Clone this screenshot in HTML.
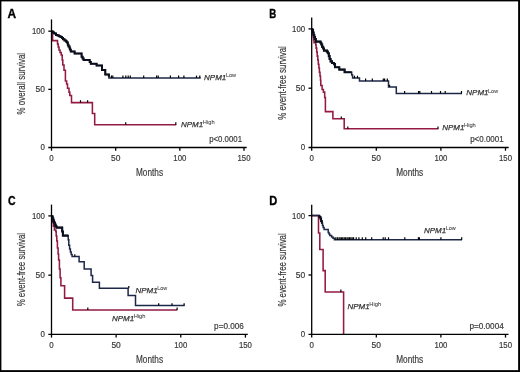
<!DOCTYPE html><html><head><meta charset="utf-8"><style>html,body{margin:0;padding:0;background:#fff;}svg{display:block;will-change:transform;}text{font-family:"Liberation Sans", sans-serif;}</style></head><body>
<svg width="520" height="372" viewBox="0 0 520 372">
<rect x="0" y="0" width="520" height="372" fill="#fff"/>
<path d="M51.5,31.2 H52.6 V40.6 H57.5 V44 H58.2 V47 H59 V50 H60 V52.5 H61.2 V55 H62.2 V60 H62.8 V65 H64 V70.2 H65.4 V81 H66.6 V84 H67.5 V88.2 H69 V92.1 H69.8 V95.5 H71.5 V102.6 H92.4 V113.4 H94.7 V124.7 H176.3" fill="none" stroke="#941a43" stroke-width="1.55" stroke-linejoin="miter" stroke-linecap="butt" />
<path d="M51.5,31.2 H52.2 V31.8 H53.5 V33 H54.4 V33.6 H56 V35 H57.5 V35.6 H59 V36.3 H60.5 V37 H62 V38 H63 V39.3 H64.5 V40.5 H66 V41.5 H67 V42.5 H67.8 V44.7 H68.5 V46.5 H69.6 V48.5 H70.2 V49.8 H70.8 V51.4 H74.6 V53.4 H81.6 V56.8 H82.6 V58.4 H83.6 V60.1 H89.7 V62.1 H90.8 V63.8 H96.6 V65.4 H102 V70.1 H105.3 V74.5 H108.9 V78 H200.7" fill="none" stroke="#1d2848" stroke-width="1.5" stroke-linejoin="miter" stroke-linecap="butt" />
<path d="M51.8,31.4 H52.2 V31.8 H53.5 V33 H54.4 V33.6 H56 V35 H57.5 V35.6 H59 V36.3 H60.5 V37 H62 V38 H63 V39.3 H64.5 V40.5 H66 V41.5 H67 V42.5 H67.8 V44.7 H68.5 V46.5 H69.6 V48.5 H70.2 V49.8 H70.8 V51.4 H74.6 V53.4 H81.6 V56.8 H82.6 V58.4 H83.6 V60.1 H89.7 V62.1 H90.8 V63.8 H96.6 V65.4 H102 V70.1 H105.3 V74.5 H108.9 V77" fill="none" stroke="#0b0f1c" stroke-width="2.0" stroke-linejoin="miter" stroke-linecap="butt" />
<line x1="80.5" y1="102.6" x2="80.5" y2="100.19999999999999" stroke="#000" stroke-width="1.2"/>
<line x1="87.6" y1="102.6" x2="87.6" y2="100.19999999999999" stroke="#000" stroke-width="1.2"/>
<line x1="125.7" y1="124.7" x2="125.7" y2="122.3" stroke="#000" stroke-width="1.2"/>
<line x1="175.8" y1="124.7" x2="175.8" y2="122.3" stroke="#000" stroke-width="1.2"/>
<line x1="111.4" y1="78" x2="111.4" y2="75.6" stroke="#000" stroke-width="1.2"/>
<line x1="112.8" y1="78" x2="112.8" y2="75.6" stroke="#000" stroke-width="1.2"/>
<line x1="122.9" y1="78" x2="122.9" y2="75.6" stroke="#000" stroke-width="1.2"/>
<line x1="125.8" y1="78" x2="125.8" y2="75.6" stroke="#000" stroke-width="1.2"/>
<line x1="128.2" y1="78" x2="128.2" y2="75.6" stroke="#000" stroke-width="1.2"/>
<line x1="130.3" y1="78" x2="130.3" y2="75.6" stroke="#000" stroke-width="1.2"/>
<line x1="143.7" y1="78" x2="143.7" y2="75.6" stroke="#000" stroke-width="1.2"/>
<line x1="156.6" y1="78" x2="156.6" y2="75.6" stroke="#000" stroke-width="1.2"/>
<line x1="158.2" y1="78" x2="158.2" y2="75.6" stroke="#000" stroke-width="1.2"/>
<line x1="170.4" y1="78" x2="170.4" y2="75.6" stroke="#000" stroke-width="1.2"/>
<line x1="178.6" y1="78" x2="178.6" y2="75.6" stroke="#000" stroke-width="1.2"/>
<line x1="183.9" y1="78" x2="183.9" y2="75.6" stroke="#000" stroke-width="1.2"/>
<line x1="196.5" y1="78" x2="196.5" y2="75.6" stroke="#000" stroke-width="1.2"/>
<line x1="199.8" y1="78" x2="199.8" y2="75.6" stroke="#000" stroke-width="1.2"/>
<text x="204.1" y="79.9" font-size="8.1" font-style="italic" fill="#333" stroke="#333" stroke-width="0.25" textLength="22.2" lengthAdjust="spacingAndGlyphs">NPM1</text>
<text x="225.89999999999998" y="77.10000000000001" font-size="5.4" fill="#3a3a3a" stroke="#3a3a3a" stroke-width="0.05" textLength="10.0" lengthAdjust="spacingAndGlyphs">Low</text>
<text x="181.0" y="127.1" font-size="8.1" font-style="italic" fill="#333" stroke="#333" stroke-width="0.25" textLength="22.2" lengthAdjust="spacingAndGlyphs">NPM1</text>
<text x="202.79999999999998" y="124.3" font-size="5.4" fill="#3a3a3a" stroke="#3a3a3a" stroke-width="0.05" textLength="11.8" lengthAdjust="spacingAndGlyphs">High</text>
<path d="M311.8,28.8 H312.4 V31 H312.8 V34 H313.2 V37 H313.6 V40 H314 V42.6 H315.8 V45 H316.1 V48.1 H316.7 V52 H317.2 V56.1 H317.8 V60 H318.3 V64.2 H318.9 V68 H319.4 V72.3 H320 V76 H320.5 V80.3 H320.8 V85.4 H322.1 V89.4 H323.4 V92.1 H324.7 V97.5 H325.4 V111.6 H332.9 V118.8 H344.2 V128.8 H438.4" fill="none" stroke="#941a43" stroke-width="1.55" stroke-linejoin="miter" stroke-linecap="butt" />
<path d="M311.8,28.8 H312.4 V30 H313 V32.5 H313.6 V35 H314.3 V37 H315 V39 H315.8 V41.6 H320.5 V42.8 H321.3 V44.5 H322.2 V46.9 H323.2 V48.5 H324 V50.6 H326.9 V51.6 H327.8 V53.3 H328.8 V56.1 H329.6 V59 H330.6 V61.4 H332 V63 H334 V64.1 H335 V67.2 H339.3 V69.6 H344.6 V72.3 H351.7 V75 H352.6 V78.1 H359.5 V81 H388.5 V87.1 H396.3 V93.4 H462" fill="none" stroke="#1d2848" stroke-width="1.5" stroke-linejoin="miter" stroke-linecap="butt" />
<path d="M312.2,29.5 H312.4 V30 H313 V32.5 H313.6 V35 H314.3 V37 H315 V39 H315.8 V41.6 H320.5 V42.8 H321.3 V44.5 H322.2 V46.9 H323.2 V48.5 H324 V50.6 H326.9 V51.6 H327.8 V53.3 H328.8 V56.1 H329.6 V59 H330.6 V61.4 H332 V63 H334 V64.1 H335 V67.2 H339.3 V69.6 H344.6 V72.3 H351.7" fill="none" stroke="#0b0f1c" stroke-width="2.1" stroke-linejoin="miter" stroke-linecap="butt" />
<line x1="341.3" y1="118.8" x2="341.3" y2="116.39999999999999" stroke="#000" stroke-width="1.2"/>
<line x1="347.8" y1="128.8" x2="347.8" y2="126.4" stroke="#000" stroke-width="1.2"/>
<line x1="438.0" y1="128.8" x2="438.0" y2="126.4" stroke="#000" stroke-width="1.2"/>
<line x1="354.5" y1="78.1" x2="354.5" y2="75.69999999999999" stroke="#000" stroke-width="1.2"/>
<line x1="357.5" y1="78.1" x2="357.5" y2="75.69999999999999" stroke="#000" stroke-width="1.2"/>
<line x1="365.6" y1="81" x2="365.6" y2="78.6" stroke="#000" stroke-width="1.2"/>
<line x1="372.3" y1="81" x2="372.3" y2="78.6" stroke="#000" stroke-width="1.2"/>
<line x1="383.3" y1="81" x2="383.3" y2="78.6" stroke="#000" stroke-width="1.2"/>
<line x1="384.6" y1="81" x2="384.6" y2="78.6" stroke="#000" stroke-width="1.2"/>
<line x1="387.3" y1="81" x2="387.3" y2="78.6" stroke="#000" stroke-width="1.2"/>
<line x1="389.6" y1="87.1" x2="389.6" y2="84.69999999999999" stroke="#000" stroke-width="1.2"/>
<line x1="404.6" y1="93.4" x2="404.6" y2="91.0" stroke="#000" stroke-width="1.2"/>
<line x1="418.6" y1="93.4" x2="418.6" y2="91.0" stroke="#000" stroke-width="1.2"/>
<line x1="419.8" y1="93.4" x2="419.8" y2="91.0" stroke="#000" stroke-width="1.2"/>
<line x1="431.5" y1="93.4" x2="431.5" y2="91.0" stroke="#000" stroke-width="1.2"/>
<line x1="440.5" y1="93.4" x2="440.5" y2="91.0" stroke="#000" stroke-width="1.2"/>
<line x1="445.2" y1="93.4" x2="445.2" y2="91.0" stroke="#000" stroke-width="1.2"/>
<line x1="461.5" y1="93.4" x2="461.5" y2="91.0" stroke="#000" stroke-width="1.2"/>
<text x="466.3" y="95.4" font-size="8.1" font-style="italic" fill="#333" stroke="#333" stroke-width="0.25" textLength="22.2" lengthAdjust="spacingAndGlyphs">NPM1</text>
<text x="488.1" y="92.60000000000001" font-size="5.4" fill="#3a3a3a" stroke="#3a3a3a" stroke-width="0.05" textLength="10.0" lengthAdjust="spacingAndGlyphs">Low</text>
<text x="442.2" y="130.2" font-size="8.1" font-style="italic" fill="#333" stroke="#333" stroke-width="0.25" textLength="22.2" lengthAdjust="spacingAndGlyphs">NPM1</text>
<text x="464.0" y="127.39999999999999" font-size="5.4" fill="#3a3a3a" stroke="#3a3a3a" stroke-width="0.05" textLength="11.8" lengthAdjust="spacingAndGlyphs">High</text>
<path d="M51.5,215.9 H52.4 V218 H52.8 V222.5 H53.4 V226.3 H54.4 V230 H55.8 V231.5 H56.2 V236 H56.8 V241 H57.4 V247.9 H58.1 V254 H58.6 V260 H59.4 V268.9 H60.1 V277.7 H60.9 V285.8 H64.6 V298.1 H72.7 V309.9 H177.3" fill="none" stroke="#941a43" stroke-width="1.55" stroke-linejoin="miter" stroke-linecap="butt" />
<path d="M51.5,215.9 H52 V216.5 H52.6 V218.5 H53.3 V220.5 H54 V222.5 H54.8 V224.6 H55.6 V226.2 H56.5 V227.6 H62.2 V231.5 H62.9 V235.6 H68.2 V239.8 H68.8 V245.2 H69.6 V249 H70.4 V252 H71.2 V254.5 H72.1 V256.6 H79.1 V261.8 H84.2 V269 H91.1 V275.5 H92.6 V282.2 H99.4 V288.3 H128.1 V295.5 H135.5 V305.6 H184.7" fill="none" stroke="#1d2848" stroke-width="1.5" stroke-linejoin="miter" stroke-linecap="butt" />
<path d="M52,216.5 H52.6 V218.5 H53.3 V220.5 H54 V222.5 H54.8 V224.6 H55.6 V226.2 H56.5 V227.6 H62.2 V231.5 H62.9 V235.6 H68.2" fill="none" stroke="#0b0f1c" stroke-width="2.1" stroke-linejoin="miter" stroke-linecap="butt" />
<line x1="74.8" y1="256.6" x2="74.8" y2="254.20000000000002" stroke="#000" stroke-width="1.2"/>
<line x1="87.8" y1="309.9" x2="87.8" y2="307.5" stroke="#000" stroke-width="1.2"/>
<line x1="177.1" y1="309.9" x2="177.1" y2="307.5" stroke="#000" stroke-width="1.2"/>
<line x1="128.8" y1="288.3" x2="128.8" y2="285.90000000000003" stroke="#000" stroke-width="1.2"/>
<line x1="158.7" y1="305.6" x2="158.7" y2="303.20000000000005" stroke="#000" stroke-width="1.2"/>
<line x1="172.0" y1="305.6" x2="172.0" y2="303.20000000000005" stroke="#000" stroke-width="1.2"/>
<line x1="184.1" y1="305.6" x2="184.1" y2="303.20000000000005" stroke="#000" stroke-width="1.2"/>
<text x="135.5" y="292.5" font-size="8.1" font-style="italic" fill="#333" stroke="#333" stroke-width="0.25" textLength="22.2" lengthAdjust="spacingAndGlyphs">NPM1</text>
<text x="157.29999999999998" y="289.7" font-size="5.4" fill="#3a3a3a" stroke="#3a3a3a" stroke-width="0.05" textLength="10.0" lengthAdjust="spacingAndGlyphs">Low</text>
<text x="111.9" y="321.2" font-size="8.1" font-style="italic" fill="#333" stroke="#333" stroke-width="0.25" textLength="22.2" lengthAdjust="spacingAndGlyphs">NPM1</text>
<text x="133.7" y="318.4" font-size="5.4" fill="#3a3a3a" stroke="#3a3a3a" stroke-width="0.05" textLength="11.8" lengthAdjust="spacingAndGlyphs">High</text>
<path d="M311.6,215.6 H318.5 V233 H319.8 V249.4 H323.1 V270.6 H325.2 V291.9 H343.6 V334.4" fill="none" stroke="#941a43" stroke-width="1.55" stroke-linejoin="miter" stroke-linecap="butt" />
<path d="M311.6,215.6 H319.4 V217 H320.4 V218.5 H321.1 V221 H321.8 V223.2 H322.5 V225.4 H323.2 V227.4 H324.1 V229.5 H328.2 V232.6 H329 V234 H329.8 V235.6 H331.6 V237 H333 V238.2 H334.4 V239.7 H462" fill="none" stroke="#1d2848" stroke-width="1.5" stroke-linejoin="miter" stroke-linecap="butt" />
<path d="M318.6,216 H319.4 V217 H320.4 V218.5 H321.1 V221 H321.8 V223.2" fill="none" stroke="#0b0f1c" stroke-width="2.0" stroke-linejoin="miter" stroke-linecap="butt" />
<line x1="340.9" y1="291.9" x2="340.9" y2="289.5" stroke="#000" stroke-width="1.2"/>
<line x1="335.8" y1="239.7" x2="335.8" y2="237.29999999999998" stroke="#000" stroke-width="1.2"/>
<line x1="337.4" y1="239.7" x2="337.4" y2="237.29999999999998" stroke="#000" stroke-width="1.2"/>
<line x1="339" y1="239.7" x2="339" y2="237.29999999999998" stroke="#000" stroke-width="1.2"/>
<line x1="340.1" y1="239.7" x2="340.1" y2="237.29999999999998" stroke="#000" stroke-width="1.2"/>
<line x1="341.5" y1="239.7" x2="341.5" y2="237.29999999999998" stroke="#000" stroke-width="1.2"/>
<line x1="342.8" y1="239.7" x2="342.8" y2="237.29999999999998" stroke="#000" stroke-width="1.2"/>
<line x1="344.2" y1="239.7" x2="344.2" y2="237.29999999999998" stroke="#000" stroke-width="1.2"/>
<line x1="345.5" y1="239.7" x2="345.5" y2="237.29999999999998" stroke="#000" stroke-width="1.2"/>
<line x1="347" y1="239.7" x2="347" y2="237.29999999999998" stroke="#000" stroke-width="1.2"/>
<line x1="348.2" y1="239.7" x2="348.2" y2="237.29999999999998" stroke="#000" stroke-width="1.2"/>
<line x1="349.6" y1="239.7" x2="349.6" y2="237.29999999999998" stroke="#000" stroke-width="1.2"/>
<line x1="350.9" y1="239.7" x2="350.9" y2="237.29999999999998" stroke="#000" stroke-width="1.2"/>
<line x1="352.2" y1="239.7" x2="352.2" y2="237.29999999999998" stroke="#000" stroke-width="1.2"/>
<line x1="353.6" y1="239.7" x2="353.6" y2="237.29999999999998" stroke="#000" stroke-width="1.2"/>
<line x1="356.2" y1="239.7" x2="356.2" y2="237.29999999999998" stroke="#000" stroke-width="1.2"/>
<line x1="358.9" y1="239.7" x2="358.9" y2="237.29999999999998" stroke="#000" stroke-width="1.2"/>
<line x1="362.3" y1="239.7" x2="362.3" y2="237.29999999999998" stroke="#000" stroke-width="1.2"/>
<line x1="365.7" y1="239.7" x2="365.7" y2="237.29999999999998" stroke="#000" stroke-width="1.2"/>
<line x1="371.7" y1="239.7" x2="371.7" y2="237.29999999999998" stroke="#000" stroke-width="1.2"/>
<line x1="383.2" y1="239.7" x2="383.2" y2="237.29999999999998" stroke="#000" stroke-width="1.2"/>
<line x1="385.2" y1="239.7" x2="385.2" y2="237.29999999999998" stroke="#000" stroke-width="1.2"/>
<line x1="388.5" y1="239.7" x2="388.5" y2="237.29999999999998" stroke="#000" stroke-width="1.2"/>
<line x1="404.8" y1="239.7" x2="404.8" y2="237.29999999999998" stroke="#000" stroke-width="1.2"/>
<line x1="418.4" y1="239.7" x2="418.4" y2="237.29999999999998" stroke="#000" stroke-width="1.2"/>
<line x1="419.4" y1="239.7" x2="419.4" y2="237.29999999999998" stroke="#000" stroke-width="1.2"/>
<line x1="440.9" y1="239.7" x2="440.9" y2="237.29999999999998" stroke="#000" stroke-width="1.2"/>
<line x1="461.7" y1="239.7" x2="461.7" y2="237.29999999999998" stroke="#000" stroke-width="1.2"/>
<text x="424.0" y="233.0" font-size="8.1" font-style="italic" fill="#333" stroke="#333" stroke-width="0.25" textLength="22.2" lengthAdjust="spacingAndGlyphs">NPM1</text>
<text x="445.8" y="230.2" font-size="5.4" fill="#3a3a3a" stroke="#3a3a3a" stroke-width="0.05" textLength="10.0" lengthAdjust="spacingAndGlyphs">Low</text>
<text x="347.5" y="309.0" font-size="8.1" font-style="italic" fill="#333" stroke="#333" stroke-width="0.25" textLength="22.2" lengthAdjust="spacingAndGlyphs">NPM1</text>
<text x="369.3" y="306.2" font-size="5.4" fill="#3a3a3a" stroke="#3a3a3a" stroke-width="0.05" textLength="11.8" lengthAdjust="spacingAndGlyphs">High</text>
<line x1="51.5" y1="19.4" x2="51.5" y2="150.7" stroke="#000" stroke-width="1.3"/>
<line x1="48.3" y1="147.5" x2="246.7" y2="147.5" stroke="#000" stroke-width="1.3"/>
<line x1="48.3" y1="31.2" x2="51.5" y2="31.2" stroke="#000" stroke-width="1.3"/>
<line x1="48.3" y1="89.35" x2="51.5" y2="89.35" stroke="#000" stroke-width="1.3"/>
<line x1="115.66666666666667" y1="147.5" x2="115.66666666666667" y2="150.7" stroke="#000" stroke-width="1.3"/>
<line x1="179.83333333333334" y1="147.5" x2="179.83333333333334" y2="150.7" stroke="#000" stroke-width="1.3"/>
<line x1="244.0" y1="147.5" x2="244.0" y2="150.7" stroke="#000" stroke-width="1.3"/>
<text x="44.9" y="34.2" text-anchor="end" textLength="13" lengthAdjust="spacingAndGlyphs" font-size="8.4" fill="#383838" stroke="#383838" stroke-width="0.18">100</text>
<text x="44.9" y="92.35" text-anchor="end" textLength="9.4" lengthAdjust="spacingAndGlyphs" font-size="8.4" fill="#383838" stroke="#383838" stroke-width="0.18">50</text>
<text x="44.9" y="150.2" text-anchor="end" textLength="4.4" lengthAdjust="spacingAndGlyphs" font-size="8.4" fill="#383838" stroke="#383838" stroke-width="0.18">0</text>
<text x="49.3" y="160.6" textLength="4.4" lengthAdjust="spacingAndGlyphs" font-size="8.4" fill="#383838" stroke="#383838" stroke-width="0.18">0</text>
<text x="110.96666666666667" y="160.6" textLength="9.4" lengthAdjust="spacingAndGlyphs" font-size="8.4" fill="#383838" stroke="#383838" stroke-width="0.18">50</text>
<text x="173.33333333333334" y="160.6" textLength="13" lengthAdjust="spacingAndGlyphs" font-size="8.4" fill="#383838" stroke="#383838" stroke-width="0.18">100</text>
<text x="237.5" y="160.6" textLength="13" lengthAdjust="spacingAndGlyphs" font-size="8.4" fill="#383838" stroke="#383838" stroke-width="0.18">150</text>
<text x="136.0" y="175.5" textLength="27" lengthAdjust="spacingAndGlyphs" font-size="10.4" fill="#383838" stroke="#383838" stroke-width="0.18">Months</text>
<text transform="translate(25.0,114.4) rotate(-90)" x="0" y="0" textLength="61.50000000000001" lengthAdjust="spacingAndGlyphs" font-size="10.6" fill="#383838" stroke="#383838" stroke-width="0.18">% overall survival</text>
<text x="7.6" y="17.7" font-size="12.5" font-weight="bold" fill="#000" textLength="8.6" lengthAdjust="spacingAndGlyphs" stroke="#000" stroke-width="0.35">A</text>
<text x="209.2" y="141.9" textLength="32.80000000000001" lengthAdjust="spacingAndGlyphs" font-size="8.4" fill="#383838" stroke="#383838" stroke-width="0.18">p<0.0001</text>
<line x1="311.7" y1="17.6" x2="311.7" y2="150.7" stroke="#000" stroke-width="1.3"/>
<line x1="308.5" y1="147.5" x2="508.7" y2="147.5" stroke="#000" stroke-width="1.3"/>
<line x1="308.5" y1="28.9" x2="311.7" y2="28.9" stroke="#000" stroke-width="1.3"/>
<line x1="308.5" y1="88.2" x2="311.7" y2="88.2" stroke="#000" stroke-width="1.3"/>
<line x1="376.3" y1="147.5" x2="376.3" y2="150.7" stroke="#000" stroke-width="1.3"/>
<line x1="440.9" y1="147.5" x2="440.9" y2="150.7" stroke="#000" stroke-width="1.3"/>
<line x1="505.5" y1="147.5" x2="505.5" y2="150.7" stroke="#000" stroke-width="1.3"/>
<text x="305.09999999999997" y="31.9" text-anchor="end" textLength="13" lengthAdjust="spacingAndGlyphs" font-size="8.4" fill="#383838" stroke="#383838" stroke-width="0.18">100</text>
<text x="305.09999999999997" y="91.2" text-anchor="end" textLength="9.4" lengthAdjust="spacingAndGlyphs" font-size="8.4" fill="#383838" stroke="#383838" stroke-width="0.18">50</text>
<text x="305.09999999999997" y="150.2" text-anchor="end" textLength="4.4" lengthAdjust="spacingAndGlyphs" font-size="8.4" fill="#383838" stroke="#383838" stroke-width="0.18">0</text>
<text x="309.5" y="160.6" textLength="4.4" lengthAdjust="spacingAndGlyphs" font-size="8.4" fill="#383838" stroke="#383838" stroke-width="0.18">0</text>
<text x="371.6" y="160.6" textLength="9.4" lengthAdjust="spacingAndGlyphs" font-size="8.4" fill="#383838" stroke="#383838" stroke-width="0.18">50</text>
<text x="434.4" y="160.6" textLength="13" lengthAdjust="spacingAndGlyphs" font-size="8.4" fill="#383838" stroke="#383838" stroke-width="0.18">100</text>
<text x="499.0" y="160.6" textLength="13" lengthAdjust="spacingAndGlyphs" font-size="8.4" fill="#383838" stroke="#383838" stroke-width="0.18">150</text>
<text x="396.2" y="175.5" textLength="27" lengthAdjust="spacingAndGlyphs" font-size="10.4" fill="#383838" stroke="#383838" stroke-width="0.18">Months</text>
<text transform="translate(285.7,119.8) rotate(-90)" x="0" y="0" textLength="73.6" lengthAdjust="spacingAndGlyphs" font-size="10.6" fill="#383838" stroke="#383838" stroke-width="0.18">% event-free survival</text>
<text x="269.3" y="17.7" font-size="12.5" font-weight="bold" fill="#000" textLength="7.0" lengthAdjust="spacingAndGlyphs" stroke="#000" stroke-width="0.35">B</text>
<text x="470.2" y="141.6" textLength="33.400000000000034" lengthAdjust="spacingAndGlyphs" font-size="8.4" fill="#383838" stroke="#383838" stroke-width="0.18">p<0.0001</text>
<line x1="51.5" y1="204.6" x2="51.5" y2="337.59999999999997" stroke="#000" stroke-width="1.3"/>
<line x1="48.3" y1="334.4" x2="247.8" y2="334.4" stroke="#000" stroke-width="1.3"/>
<line x1="48.3" y1="215.9" x2="51.5" y2="215.9" stroke="#000" stroke-width="1.3"/>
<line x1="48.3" y1="275.15" x2="51.5" y2="275.15" stroke="#000" stroke-width="1.3"/>
<line x1="116.13333333333334" y1="334.4" x2="116.13333333333334" y2="337.59999999999997" stroke="#000" stroke-width="1.3"/>
<line x1="180.76666666666668" y1="334.4" x2="180.76666666666668" y2="337.59999999999997" stroke="#000" stroke-width="1.3"/>
<line x1="245.40000000000003" y1="334.4" x2="245.40000000000003" y2="337.59999999999997" stroke="#000" stroke-width="1.3"/>
<text x="44.9" y="218.9" text-anchor="end" textLength="13" lengthAdjust="spacingAndGlyphs" font-size="8.4" fill="#383838" stroke="#383838" stroke-width="0.18">100</text>
<text x="44.9" y="278.15" text-anchor="end" textLength="9.4" lengthAdjust="spacingAndGlyphs" font-size="8.4" fill="#383838" stroke="#383838" stroke-width="0.18">50</text>
<text x="44.9" y="337.09999999999997" text-anchor="end" textLength="4.4" lengthAdjust="spacingAndGlyphs" font-size="8.4" fill="#383838" stroke="#383838" stroke-width="0.18">0</text>
<text x="49.3" y="347.5" textLength="4.4" lengthAdjust="spacingAndGlyphs" font-size="8.4" fill="#383838" stroke="#383838" stroke-width="0.18">0</text>
<text x="111.43333333333334" y="347.5" textLength="9.4" lengthAdjust="spacingAndGlyphs" font-size="8.4" fill="#383838" stroke="#383838" stroke-width="0.18">50</text>
<text x="174.26666666666668" y="347.5" textLength="13" lengthAdjust="spacingAndGlyphs" font-size="8.4" fill="#383838" stroke="#383838" stroke-width="0.18">100</text>
<text x="238.90000000000003" y="347.5" textLength="13" lengthAdjust="spacingAndGlyphs" font-size="8.4" fill="#383838" stroke="#383838" stroke-width="0.18">150</text>
<text x="136.0" y="362.79999999999995" textLength="27" lengthAdjust="spacingAndGlyphs" font-size="10.4" fill="#383838" stroke="#383838" stroke-width="0.18">Months</text>
<text transform="translate(25.1,306.3) rotate(-90)" x="0" y="0" textLength="73.30000000000001" lengthAdjust="spacingAndGlyphs" font-size="10.6" fill="#383838" stroke="#383838" stroke-width="0.18">% event-free survival</text>
<text x="7.9" y="204.6" font-size="12.5" font-weight="bold" fill="#000" textLength="7.6" lengthAdjust="spacingAndGlyphs" stroke="#000" stroke-width="0.35">C</text>
<text x="214.1" y="328.9" textLength="29.700000000000017" lengthAdjust="spacingAndGlyphs" font-size="8.4" fill="#383838" stroke="#383838" stroke-width="0.18">p=0.006</text>
<line x1="311.7" y1="204.8" x2="311.7" y2="337.59999999999997" stroke="#000" stroke-width="1.3"/>
<line x1="308.5" y1="334.4" x2="508.5" y2="334.4" stroke="#000" stroke-width="1.3"/>
<line x1="308.5" y1="215.6" x2="311.7" y2="215.6" stroke="#000" stroke-width="1.3"/>
<line x1="308.5" y1="275.0" x2="311.7" y2="275.0" stroke="#000" stroke-width="1.3"/>
<line x1="376.3" y1="334.4" x2="376.3" y2="337.59999999999997" stroke="#000" stroke-width="1.3"/>
<line x1="440.9" y1="334.4" x2="440.9" y2="337.59999999999997" stroke="#000" stroke-width="1.3"/>
<line x1="505.5" y1="334.4" x2="505.5" y2="337.59999999999997" stroke="#000" stroke-width="1.3"/>
<text x="305.09999999999997" y="218.6" text-anchor="end" textLength="13" lengthAdjust="spacingAndGlyphs" font-size="8.4" fill="#383838" stroke="#383838" stroke-width="0.18">100</text>
<text x="305.09999999999997" y="278.0" text-anchor="end" textLength="9.4" lengthAdjust="spacingAndGlyphs" font-size="8.4" fill="#383838" stroke="#383838" stroke-width="0.18">50</text>
<text x="305.09999999999997" y="337.09999999999997" text-anchor="end" textLength="4.4" lengthAdjust="spacingAndGlyphs" font-size="8.4" fill="#383838" stroke="#383838" stroke-width="0.18">0</text>
<text x="309.5" y="347.5" textLength="4.4" lengthAdjust="spacingAndGlyphs" font-size="8.4" fill="#383838" stroke="#383838" stroke-width="0.18">0</text>
<text x="371.6" y="347.5" textLength="9.4" lengthAdjust="spacingAndGlyphs" font-size="8.4" fill="#383838" stroke="#383838" stroke-width="0.18">50</text>
<text x="434.4" y="347.5" textLength="13" lengthAdjust="spacingAndGlyphs" font-size="8.4" fill="#383838" stroke="#383838" stroke-width="0.18">100</text>
<text x="499.0" y="347.5" textLength="13" lengthAdjust="spacingAndGlyphs" font-size="8.4" fill="#383838" stroke="#383838" stroke-width="0.18">150</text>
<text x="396.2" y="362.79999999999995" textLength="27" lengthAdjust="spacingAndGlyphs" font-size="10.4" fill="#383838" stroke="#383838" stroke-width="0.18">Months</text>
<text transform="translate(285.7,306.6) rotate(-90)" x="0" y="0" textLength="73.30000000000001" lengthAdjust="spacingAndGlyphs" font-size="10.6" fill="#383838" stroke="#383838" stroke-width="0.18">% event-free survival</text>
<text x="269.3" y="204.5" font-size="12.5" font-weight="bold" fill="#000" textLength="8.0" lengthAdjust="spacingAndGlyphs" stroke="#000" stroke-width="0.35">D</text>
<text x="469.4" y="328.6" textLength="34.400000000000034" lengthAdjust="spacingAndGlyphs" font-size="8.4" fill="#383838" stroke="#383838" stroke-width="0.18">p=0.0004</text>
<rect x="0.7" y="0.7" width="518.6" height="370.6" fill="none" stroke="#000" stroke-width="1.4"/>
<line x1="519.1" y1="0" x2="519.1" y2="372" stroke="#000" stroke-width="1.8"/>
<line x1="0" y1="371.1" x2="520" y2="371.1" stroke="#000" stroke-width="1.8"/>
</svg></body></html>
